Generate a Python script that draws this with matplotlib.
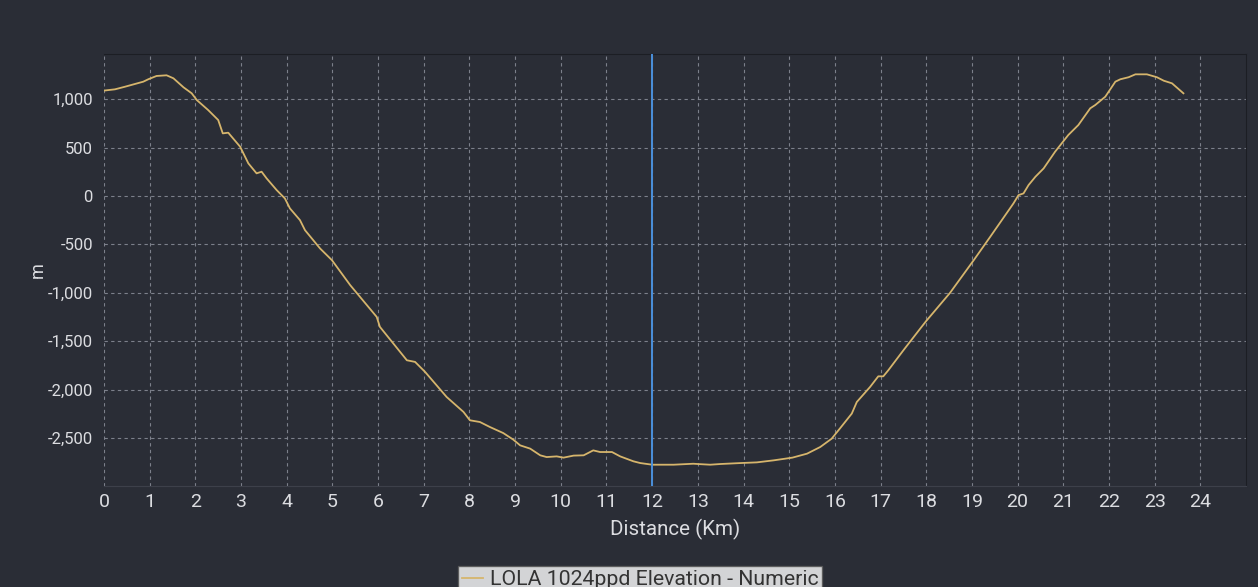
import matplotlib
matplotlib.use("Agg")
import matplotlib.pyplot as plt
from matplotlib.ticker import FuncFormatter

# Elevation profile along the traverse
distance_km = [0.0, 0.24, 0.46, 0.86, 0.97, 1.15, 1.37, 1.52, 1.74, 1.92, 2.03, 2.28,
               2.50, 2.60, 2.72, 2.98, 3.16, 3.34, 3.45, 3.56, 3.78, 3.96, 4.07, 4.29,
               4.40, 4.73, 4.99, 5.39, 5.97, 6.04, 6.63, 6.81, 7.03, 7.50, 7.87, 8.01,
               8.23, 8.45, 8.74, 8.96, 9.11, 9.33, 9.55, 9.69, 9.91, 10.06, 10.28, 10.50,
               10.71, 10.86, 11.12, 11.30, 11.59, 11.74, 12.0, 12.47, 12.9, 13.0, 13.27,
               13.49, 13.93, 14.29, 14.66, 15.07, 15.39, 15.68, 15.93, 16.12, 16.37,
               16.48, 16.77, 16.95, 17.06, 17.17, 17.50, 17.87, 18.0, 18.52, 19.04,
               19.40, 19.91, 20.02, 20.13, 20.24, 20.39, 20.57, 20.82, 21.11, 21.33,
               21.59, 21.70, 21.92, 22.14, 22.25, 22.43, 22.58, 22.83, 23.05, 23.20,
               23.38, 23.63]
elevation_m = [1090, 1103, 1130, 1182, 1207, 1241, 1248, 1217, 1124, 1062, 993, 889,
               786, 648, 655, 510, 338, 235, 252, 183, 62, -24, -127, -248,
               -352, -541, -662, -920, -1248, -1351, -1696, -1713, -1817, -2075, -2230, -2316,
               -2334, -2386, -2448, -2516, -2575, -2609, -2678, -2696, -2689, -2702, -2681, -2678,
               -2627, -2644, -2644, -2689, -2740, -2758, -2775, -2775, -2765, -2768, -2775,
               -2768, -2758, -2751, -2730, -2702, -2661, -2592, -2506, -2395, -2247,
               -2127, -1972, -1862, -1862, -1799, -1593, -1368, -1290, -1000, -662,
               -421, -75, 10, 28, 114, 200, 286, 458, 631, 734,
               907, 941, 1027, 1182, 1207, 1228, 1258, 1258, 1228, 1192,
               1165, 1062]

x_ticks = list(range(0, 25))
y_ticks = [1000, 500, 0, -500, -1000, -1500, -2000, -2500]
cursor_km = 12
series_label = "LOLA 1024ppd Elevation - Numeric"

bg = "#2a2d36"
text_col = "#dcdde1"
grid_col = "#868a95"
line_col = "#d6b56c"
cursor_col = "#4a90dc"

plt.rcParams["font.family"] = ["Roboto", "DejaVu Sans"]

fig = plt.figure(figsize=(12.58, 5.87), dpi=100, facecolor=bg)
ax = fig.add_axes([104 / 1258, 1 - 486 / 587, (1246 - 104) / 1258, (486 - 54) / 587])
ax.set_facecolor(bg)

ax.plot(distance_km, elevation_m, color=line_col, lw=1.3, label=series_label, zorder=3)
ax.axvline(cursor_km, color=cursor_col, lw=1.4, zorder=4)

ax.set_xlim(0, 25)
ax.set_ylim(-2995, 1468)
ax.set_xticks(x_ticks)
ax.set_yticks(y_ticks)
ax.yaxis.set_major_formatter(FuncFormatter(lambda v, p: f"{int(v):,}"))

ax.grid(True, color=grid_col, linestyle=(0, (3, 3)), linewidth=0.8, alpha=0.9)
ax.set_axisbelow(True)

ax.tick_params(axis="both", length=0, colors=text_col)
ax.tick_params(axis="y", pad=8, labelsize=12)
ax.tick_params(axis="x", pad=5, labelsize=14)

ax.spines["left"].set_visible(False)
ax.spines["top"].set_color("#1c1e24")
ax.spines["right"].set_color("#1c1e24")
ax.spines["bottom"].set_color("#3d404a")

ax.set_xlabel("Distance (Km)", color=text_col, fontsize=14.8, labelpad=6)
fig.text(38 / 1258, 1 - 270 / 587, "m", color=text_col, fontsize=13,
         rotation=90, ha="center", va="center")

leg = fig.legend(loc="upper center", bbox_to_anchor=(640 / 1258, 1 - 566 / 587),
                 frameon=True, fancybox=False, fontsize=15.3, handlelength=1.0,
                 handletextpad=0.3, borderpad=0.2, borderaxespad=0)
leg.get_frame().set_facecolor("white")
leg.get_frame().set_edgecolor("#555555")
for t in leg.get_texts():
    t.set_color("#333333")

fig.savefig("out.png", dpi=100, facecolor=bg)
